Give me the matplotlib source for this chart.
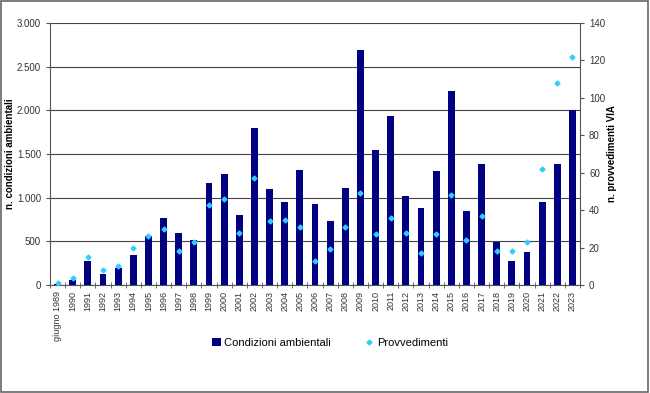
import numpy as np
import matplotlib
matplotlib.use("Agg")
import matplotlib.pyplot as plt
from matplotlib.ticker import FuncFormatter, FixedLocator

plt.rcParams["font.family"] = ["Liberation Sans", "DejaVu Sans"]

# data
years = ["giugno 1989"] + [str(y) for y in range(1990, 2024)]
condizioni = [10, 60, 275, 130, 200, 340, 560, 770, 595, 516, 1170, 1270, 800, 1800,
              1100, 955, 1320, 930, 730, 1110, 2690, 1545, 1940, 1015, 885, 1311,
              2225, 850, 1385, 495, 270, 375, 945, 1385, 2000]
provvedimenti = [1, 4, 15, 8, 10, 20, 26, 30, 18, 23, 43, 46, 28, 57, 34, 35, 31, 13,
                 19, 31, 49, 27, 36, 28, 17, 27, 48, 24, 37, 18, 18, 23, 62, 108, 122]

x = np.arange(len(years))

fig = plt.figure(figsize=(6.5, 3.93), dpi=100)
fig.patch.set_facecolor("white")
ax = fig.add_axes([50 / 650, 1 - 285 / 393, 530 / 650, 262 / 393])

ax.bar(x, condizioni, width=0.45, color="#000080", zorder=3, label="Condizioni ambientali")
ax.set_ylim(0, 3000)
ax.set_xlim(-0.5, len(years) - 0.5)
ax.set_yticks(np.arange(0, 3001, 500))
ax.yaxis.set_major_formatter(FuncFormatter(lambda v, p: f"{int(v):,}".replace(",", ".")))
ax.grid(axis="y", color="#444444", linewidth=0.8, zorder=0)
ax.set_xticks(x)
ax.set_xticklabels(years, rotation=90, fontsize=6.5, color="#333333")
ax.xaxis.set_minor_locator(FixedLocator(np.arange(-0.5, len(years), 1)))
ax.tick_params(axis="x", which="major", length=0, pad=4)
ax.tick_params(axis="x", which="minor", length=4, direction="inout", color="#555555")
ax.tick_params(axis="y", labelsize=7, colors="#333333", length=3, color="#555555")
ax.set_ylabel("n. condizioni ambientali", fontsize=7, fontweight="bold", labelpad=1)
for s in ["top", "right"]:
    ax.spines[s].set_visible(False)
ax.spines["left"].set_color("#555555")
ax.spines["bottom"].set_color("#555555")

ax2 = ax.twinx()
ax2.plot(x, provvedimenti, linestyle="none", marker="D", markersize=2.5,
         color="#33CCFF", zorder=4, label="Provvedimenti")
ax2.set_ylim(0, 140)
ax2.set_yticks(np.arange(0, 141, 20))
ax2.tick_params(axis="y", labelsize=7, colors="#333333", length=3, color="#555555")
ax2.set_ylabel("n. provvedimenti VIA", fontsize=7, fontweight="bold", labelpad=1)
for s in ["top", "left", "bottom"]:
    ax2.spines[s].set_visible(False)
ax2.spines["right"].set_color("#555555")

h1, l1 = ax.get_legend_handles_labels()
h2, l2 = ax2.get_legend_handles_labels()
fig.legend(h1 + h2, l1 + l2, loc="center", bbox_to_anchor=(330 / 650, 1 - 343 / 393),
           ncol=2, frameon=False, fontsize=8, handlelength=0.8, handletextpad=0.3,
           columnspacing=3)

border = plt.Rectangle((0.002, 0.003), 0.995, 0.994, transform=fig.transFigure,
                       fill=False, edgecolor="#666666", linewidth=1.2)
fig.patches.append(border)

fig.savefig("out.png", dpi=100)
